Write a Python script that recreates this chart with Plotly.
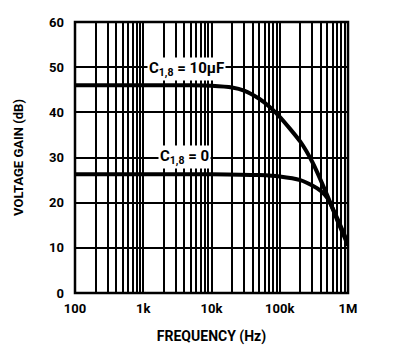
import plotly.graph_objects as go

# data
freq_hi = [100, 1000, 5000, 10000, 20000, 30000, 50000, 70000, 100000, 200000, 300000, 500000, 700000, 1000000]
gain_hi = [46, 46, 46, 45.9, 45.5, 44.8, 43, 41.3, 39, 33.5, 29, 21.5, 16, 10.5]
freq_lo = [100, 1000, 10000, 50000, 100000, 200000, 300000, 400000, 500000, 700000, 1000000]
gain_lo = [26.3, 26.3, 26.3, 26.1, 25.8, 25.0, 23.8, 22.6, 21.0, 16.5, 11]
x_tickvals = [100, 1000, 10000, 100000, 1000000]
x_ticktext = ["100", "1k", "10k", "100k", "1M"]
y_tickvals = [0, 10, 20, 30, 40, 50, 60]
minor_vals = [m * d for d in [100, 1000, 10000, 100000] for m in range(2, 10)]
label_hi = "C<sub>1,8</sub> = 10μF"
label_lo = "C<sub>1,8</sub> = 0"

FONT = "Roboto, Liberation Sans, sans-serif"

fig = go.Figure()
fig.add_trace(go.Scatter(x=freq_hi, y=gain_hi, mode="lines", line=dict(color="black", width=4, shape="spline", smoothing=0.6)))
fig.add_trace(go.Scatter(x=freq_lo, y=gain_lo, mode="lines", line=dict(color="black", width=4, shape="spline", smoothing=0.6)))

fig.add_annotation(x=3.63, y=49.6, xref="x", yref="y", text=f"<b>{label_hi}</b>", showarrow=False,
                   bgcolor="white", font=dict(family=FONT, size=15, color="black"), borderpad=1)
fig.add_annotation(x=3.61, y=30.2, xref="x", yref="y", text=f"<b>{label_lo}</b>", showarrow=False,
                   bgcolor="white", font=dict(family=FONT, size=15, color="black"), borderpad=1)

# plot frame
fig.add_shape(type="rect", xref="paper", yref="paper", x0=0, x1=1, y0=0, y1=1,
              line=dict(color="black", width=2.5), layer="above")

fig.update_layout(
    width=405, height=356,
    margin=dict(l=67, r=65, t=14, b=71),
    paper_bgcolor="white", plot_bgcolor="white",
    showlegend=False,
    font=dict(family=FONT, color="black"),
)
fig.update_xaxes(
    type="log", range=[2, 6], automargin=False,
    tickvals=x_tickvals, ticktext=[f"<b>{t}</b>" for t in x_ticktext],
    tickfont=dict(size=13, family=FONT), ticks="", ticklabelstandoff=6,
    showgrid=True, gridcolor="black", gridwidth=2,
    minor=dict(tickvals=minor_vals, showgrid=True, gridcolor="black", gridwidth=1.5, ticks=""),
    showline=False,
    title=dict(text="<b>FREQUENCY (Hz)</b>", font=dict(size=14, family=FONT), standoff=16),
    zeroline=False,
)
fig.update_yaxes(
    range=[0, 60], automargin=False, tickvals=y_tickvals, ticktext=[f"<b>{v}</b>" for v in y_tickvals],
    tickfont=dict(size=13, family=FONT), ticks="", ticklabelstandoff=10,
    showgrid=True, gridcolor="black", gridwidth=1.5,
    showline=False,
    title=dict(text="<b>VOLTAGE GAIN (dB)</b>", font=dict(size=13, family=FONT), standoff=22),
    zeroline=False,
)

fig.write_html("out.html")
